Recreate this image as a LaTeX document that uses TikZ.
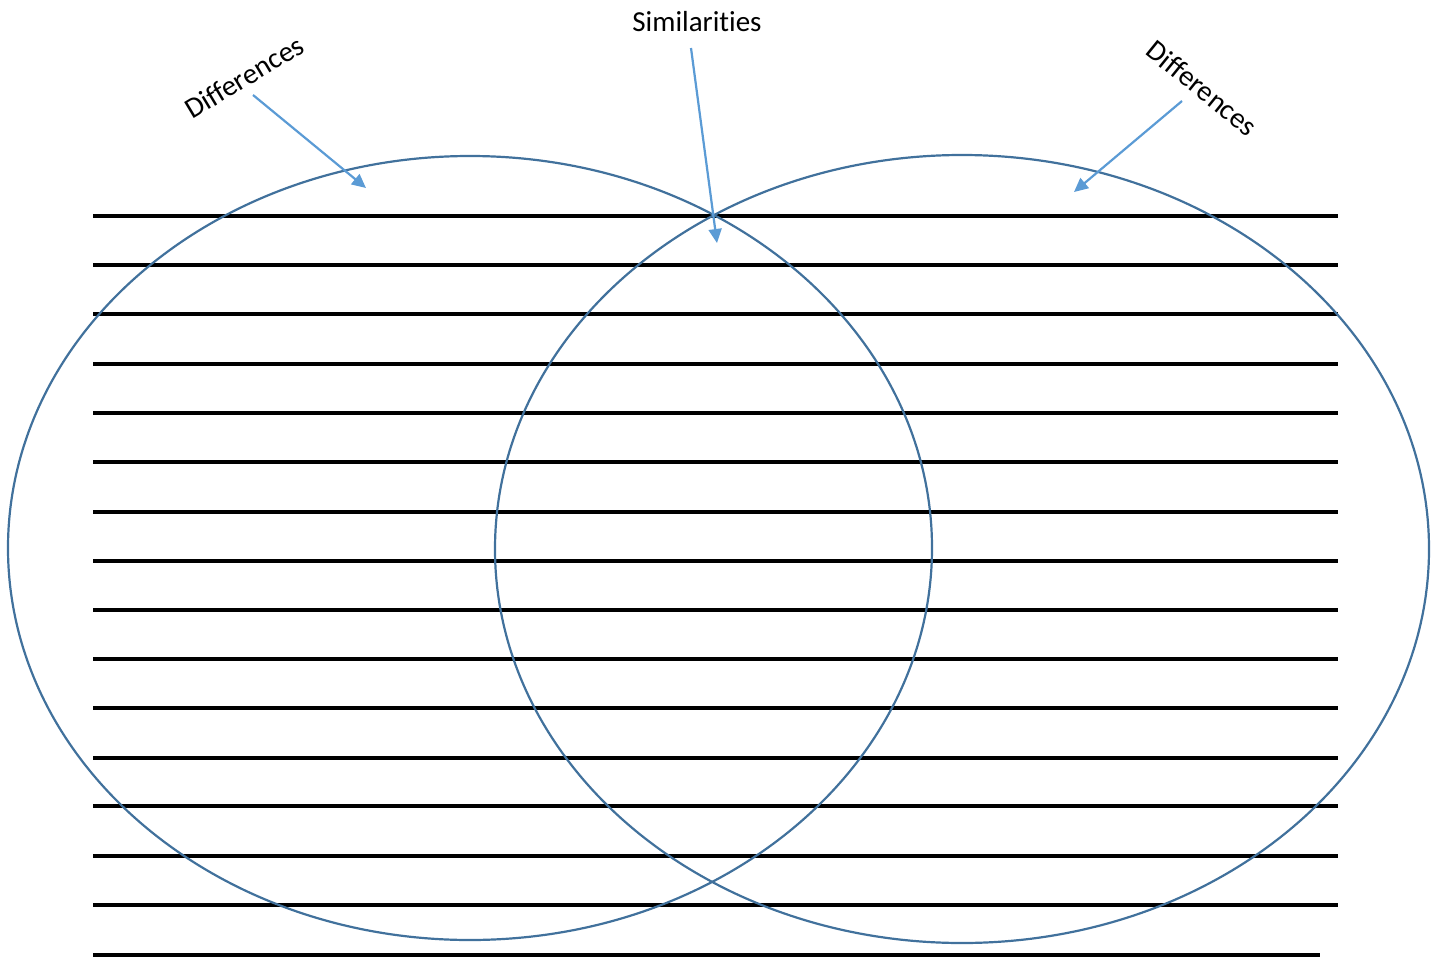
\documentclass[tikz,border=0pt]{standalone}
\usepackage{fontspec}
\setmainfont[Ligatures=NoCommon]{Carlito}
\usetikzlibrary{arrows.meta}
\definecolor{ellcol}{RGB}{65,113,156}
\definecolor{arrcol}{RGB}{91,155,213}
\tikzset{
  venn/.style={draw=ellcol, line width=2.2pt},
  rule/.style={draw=black, line width=3.2pt},
  pointer/.style={draw=arrcol, line width=2.2pt, -{Triangle[length=14pt,width=13pt]}},
  lbl/.style={font=\fontsize{29}{34}\selectfont, inner sep=0pt}
}
\begin{document}
\begin{tikzpicture}[x=1pt,y=-1pt]
\useasboundingbox (0,0) rectangle (1440,958);
% writing lines
\foreach \yy in {216,265,314,364,413,462,512,561,610,659,708,758,806,856,905}{
  \draw[rule] (93,\yy) -- (1338,\yy);
}
\draw[rule] (93,955) -- (1320,955);
% ellipses
\draw[venn] (470,548) ellipse [x radius=462, y radius=392];
\draw[venn] (962,549) ellipse [x radius=467, y radius=394];
% labels
\node[lbl] (sim) at (697,22) {Similarities};
\node[lbl, rotate=31] (difl) at (244,77) {Differences};
\node[lbl, rotate=-39] (difr) at (1202,88) {Differences};
% arrows
\coordinate (la) at (253,95);
\coordinate (lb) at (366,188);
\coordinate (ma) at (691,48);
\coordinate (mb) at (717,243);
\coordinate (ra) at (1182,101);
\coordinate (rb) at (1074,192);
\draw[pointer] (la) -- (lb);
\draw[pointer] (ma) -- (mb);
\draw[pointer] (ra) -- (rb);
\end{tikzpicture}
\end{document}
